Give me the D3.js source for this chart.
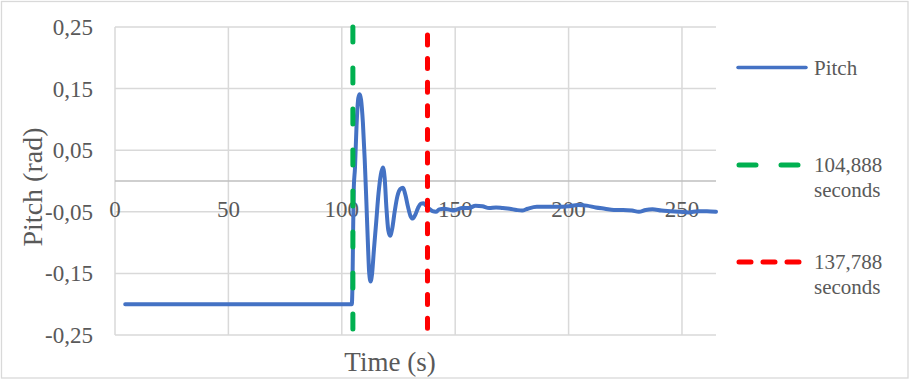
<!DOCTYPE html>
<html>
<head>
<meta charset="utf-8">
<script src="https://cdn.jsdelivr.net/npm/d3@7"></script>
<style>
  html, body { margin: 0; padding: 0; background: #fff; }
  svg text { font-family: "Liberation Serif", "Times New Roman", "DejaVu Serif", serif; }
</style>
</head>
<body>
<svg id="chart" width="910" height="380"></svg>
<script>
// Pitch response over time (seconds, radians)
const time = [
  4.5, 30, 60, 90, 104.4, 104.7, 105.0, 105.3, 105.8, 106.5, 107.3, 107.9,
  108.5, 109.3, 110.1, 110.8, 111.5, 112.1, 112.7, 113.3, 114.2, 115.1,
  116.2, 117.2, 118.1, 118.9, 119.7, 120.5, 121.3, 122.2, 123.3, 124.5,
  125.8, 127.0, 128.0, 129.2, 130.3, 131.3, 132.4, 133.6, 134.8, 136.0,
  137.2, 138.5, 140, 141.5, 143, 145, 147, 149, 151, 153, 156, 159, 162,
  165, 168, 171, 174, 177, 179.5, 182, 186, 190, 195, 200, 204, 208, 212,
  216, 220, 224, 228, 231, 234, 237, 241, 245, 249, 253, 257, 261, 265
];
const pitch = [
  -0.2, -0.2, -0.2, -0.2, -0.2, -0.17, -0.08, -0.01, 0.02, 0.09, 0.135, 0.141,
  0.132, 0.095, 0.035, -0.03, -0.1, -0.15, -0.163, -0.152, -0.11, -0.07,
  -0.02, 0.01, 0.022, 0.005, -0.045, -0.08, -0.089, -0.078, -0.05, -0.025,
  -0.013, -0.011, -0.022, -0.042, -0.057, -0.061, -0.055, -0.044, -0.037, -0.036,
  -0.04, -0.045, -0.049, -0.05, -0.046, -0.045, -0.046, -0.048, -0.046, -0.044, -0.044, -0.04, -0.041,
  -0.044, -0.043, -0.044, -0.045, -0.047, -0.048, -0.045, -0.042, -0.042, -0.042, -0.041, -0.039, -0.04, -0.043,
  -0.045, -0.047, -0.047, -0.048, -0.05, -0.047, -0.046, -0.048, -0.049, -0.05, -0.051, -0.049, -0.049, -0.05
];

// Event markers (vertical dashed lines)
const markerTimes = [104.888, 137.788];
const markerTops = [0.25, 0.237];
const markerLabels = [["104,888", "seconds"], ["137,788", "seconds"]];
const markerColors = ["#00B050", "#FF0000"];
const markerDashes = ["15 26", "10 13.6"];

const seriesName = "Pitch";
const xTicks = [0, 50, 100, 150, 200, 250];
const yTicks = [-0.25, -0.15, -0.05, 0.05, 0.15, 0.25];
const xTitle = "Time (s)";
const yTitle = "Pitch (rad)";

const svg = d3.select("#chart");
const serif = '"Liberation Serif", "Times New Roman", serif';
const textColor = "#595959";
const gridColor = "#d9d9d9";
const fmt = v => d3.format(".2f")(v).replace(".", ",").replace("\u2212", "-");

// chart frame
svg.append("rect")
  .attr("x", 1.5).attr("y", 1.5).attr("width", 906.5).attr("height", 376.5)
  .attr("fill", "#fff").attr("stroke", gridColor).attr("stroke-width", 1.3);

const x = d3.scaleLinear().domain([0, 265]).range([115, 716]);
const y = d3.scaleLinear().domain([-0.25, 0.25]).range([335, 27]);

// horizontal gridlines + y tick labels
const gy = svg.append("g");
gy.selectAll("line").data(yTicks).join("line")
  .attr("x1", x(0)).attr("x2", x(265))
  .attr("y1", d => y(d)).attr("y2", d => y(d))
  .attr("stroke", gridColor).attr("stroke-width", 1.5);
gy.selectAll("text").data(yTicks).join("text")
  .attr("x", 93).attr("y", d => y(d))
  .attr("dy", "0.35em")
  .attr("text-anchor", "end")
  .attr("font-family", serif)
  .attr("font-size", 23).attr("fill", textColor)
  .text(fmt);

// vertical gridlines
svg.append("g").selectAll("line").data(xTicks).join("line")
  .attr("x1", d => x(d)).attr("x2", d => x(d))
  .attr("y1", y(0.25)).attr("y2", y(-0.25))
  .attr("stroke", gridColor).attr("stroke-width", 1.5);

// horizontal axis at zero
svg.append("line")
  .attr("x1", x(0)).attr("x2", x(265))
  .attr("y1", y(0)).attr("y2", y(0))
  .attr("stroke", "#bfbfbf").attr("stroke-width", 1.5);

// x tick labels
svg.append("g").selectAll("text").data(xTicks).join("text")
  .attr("x", d => x(d)).attr("y", y(0) + 36)
  .attr("text-anchor", "middle")
  .attr("font-family", serif)
  .attr("font-size", 23).attr("fill", textColor)
  .text(d => d);

// pitch series
const line = d3.line()
  .x((d, i) => x(time[i]))
  .y(d => y(d))
  .curve(d3.curveMonotoneX);
svg.append("path")
  .datum(pitch)
  .attr("d", line)
  .attr("fill", "none")
  .attr("stroke", "#4472C4")
  .attr("stroke-width", 4)
  .attr("stroke-linejoin", "round")
  .attr("stroke-linecap", "round");

// marker lines
svg.append("g").selectAll("line").data(markerTimes).join("line")
  .attr("x1", d => x(d)).attr("x2", d => x(d))
  .attr("y1", (d, i) => y(markerTops[i])).attr("y2", y(-0.25))
  .attr("stroke", (d, i) => markerColors[i])
  .attr("stroke-width", 5)
  .attr("stroke-linecap", "round")
  .attr("stroke-dasharray", (d, i) => markerDashes[i]);

// axis titles
svg.append("text")
  .attr("x", 390).attr("y", 371)
  .attr("text-anchor", "middle")
  .attr("font-family", serif)
  .attr("font-size", 27).attr("fill", textColor)
  .text(xTitle);
svg.append("text")
  .attr("transform", "translate(42,187) rotate(-90)")
  .attr("text-anchor", "middle")
  .attr("font-family", serif)
  .attr("font-size", 28).attr("fill", textColor)
  .text(yTitle);

// legend
const legend = svg.append("g");
legend.append("line")
  .attr("x1", 738).attr("x2", 806).attr("y1", 67.5).attr("y2", 67.5)
  .attr("stroke", "#4472C4").attr("stroke-width", 3.5).attr("stroke-linecap", "round");
legend.append("text").attr("x", 814).attr("y", 67.5).attr("dy", "0.35em")
  .attr("font-family", serif).attr("font-size", 21).attr("fill", textColor)
  .text(seriesName);

const legendY = [165, 262];
const legendDash = ["17 25", "12 12"];
markerLabels.forEach((lab, i) => {
  legend.append("line")
    .attr("x1", 739).attr("x2", 800).attr("y1", legendY[i]).attr("y2", legendY[i])
    .attr("stroke", markerColors[i]).attr("stroke-width", 5)
    .attr("stroke-linecap", "round")
    .attr("stroke-dasharray", legendDash[i]);
  lab.forEach((t, j) => {
    legend.append("text").attr("x", 814).attr("y", legendY[i] + 25 * j).attr("dy", "0.35em")
      .attr("font-family", serif).attr("font-size", 21).attr("fill", textColor)
      .text(t);
  });
});
</script>
</body>
</html>
